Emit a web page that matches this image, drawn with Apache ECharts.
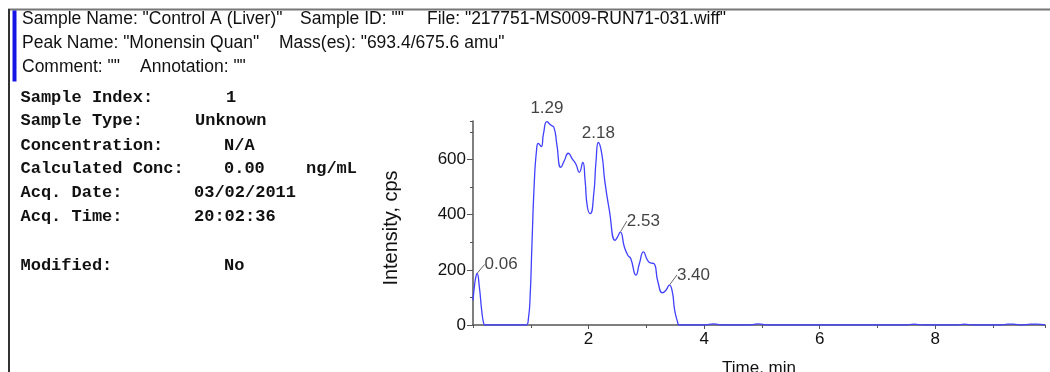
<!DOCTYPE html>
<html><head><meta charset="utf-8">
<script src="https://cdn.jsdelivr.net/npm/echarts@6/dist/echarts.min.js"></script>
<style>html,body{margin:0;padding:0;background:#fff}#c{width:1050px;height:372px}</style>
</head><body><div id="c"></div>
<script>
// Chromatogram trace (time in min, intensity in cps)
var times = [0.00,0.03,0.05,0.07,0.11,0.15,0.185,0.21,0.5,0.92,0.96,0.99,1.02,1.06,1.10,1.13,1.18,1.22,1.28,1.34,1.40,1.45,1.52,1.58,1.65,1.72,1.78,1.84,1.90,1.94,1.98,2.03,2.09,2.13,2.17,2.23,2.28,2.36,2.46,2.50,2.55,2.62,2.68,2.73,2.82,2.88,2.95,3.02,3.07,3.13,3.20,3.28,3.34,3.40,3.45,3.49,3.54,3.57,4.0,4.17,4.3,4.8,4.93,5.1,7.5,7.63,7.8,8.4,8.5,8.65,9.15,9.25,9.35,9.5,9.65,9.75,9.9];
var intensity = [90,150,175,187,138,54,6,0,0,0,25,110,290,512,635,659,647,694,738,726,717,657,572,596,623,602,584,554,590,524,428,404,476,596,662,620,524,416,307,319,337,283,253,241,181,223,265,235,225,223,157,117,126,145,120,54,12,0,0,4,0,0,4,0,0,3,0,0,3,0,0,3,3,0,3,3,0];
// Labelled peaks
var peakTimes = [0.07,1.28,2.17,2.55,3.40];
var peakValues = [187,738,662,337,145];
var peakLabels = ['0.06','1.29','2.18','2.53','3.40'];
// Axis ticks
var xTicks = [2,4,6,8];
var yTicks = [0,200,400,600];
// Header and info block text
var headerLines = [
  [['Sample Name: "Control A (Liver)"',22],['Sample ID: ""',300],['File: "217751-MS009-RUN71-031.wiff"',427]],
  [['Peak Name: "Monensin Quan"',22],['Mass(es): "693.4/675.6 amu"',279]],
  [['Comment: ""',22],['Annotation: ""',140]]
];
var infoLabels = ['Sample Index:','Sample Type:','Concentration:','Calculated Conc:','Acq. Date:','Acq. Time:','Modified:'];
var infoValues = [[['1',226]],[['Unknown',195]],[['N/A',224]],[['0.00',224],['ng/mL',306]],[['03/02/2011',194]],[['20:02:36',194]],[['No',224]]];
var infoRowY = [97.5,121,145.5,169,193,216.5,266];
var headerRowY = [19,43,67];

var SANS = '"Liberation Sans", Arial, sans-serif';
var MONO = '"Liberation Mono", "Courier New", monospace';

var graphics = [];
graphics.push({type:'line',shape:{x1:8,y1:9.5,x2:1050,y2:9.5},style:{stroke:'#777',lineWidth:2},silent:true});
graphics.push({type:'line',shape:{x1:9,y1:9,x2:9,y2:372},style:{stroke:'#333',lineWidth:2},silent:true});
graphics.push({type:'rect',shape:{x:12.5,y:10.5,width:4,height:71},style:{fill:'#1414e6'},silent:true});
headerLines.forEach(function(line,i){
  line.forEach(function(seg){
    graphics.push({type:'text',x:seg[1],y:headerRowY[i],style:{text:seg[0],font:'17.5px '+SANS,fill:'#111',textVerticalAlign:'middle'},silent:true});
  });
});
infoLabels.forEach(function(lab,i){
  graphics.push({type:'text',x:20.5,y:infoRowY[i],style:{text:lab,font:'bold 17px '+MONO,fill:'#111',textVerticalAlign:'middle'},silent:true});
  infoValues[i].forEach(function(v){
    graphics.push({type:'text',x:v[1],y:infoRowY[i],style:{text:v[0],font:'bold 17px '+MONO,fill:'#111',textVerticalAlign:'middle'},silent:true});
  });
});

var peakData = peakTimes.map(function(t,i){
  return {value:[t,peakValues[i]], name:peakLabels[i]};
});
var labelPos = {'0.06':{p:'right',dx:4,dy:-9,line:true},'1.29':{p:'top',dx:0,dy:-1,line:false},'2.18':{p:'top',dx:0,dy:3,line:false},'2.53':{p:'right',dx:3,dy:-11,line:true},'3.40':{p:'right',dx:4,dy:-10,line:true}};
peakData.forEach(function(d){
  var lp = labelPos[d.name];
  d.label = {position:lp.p};
  d.labelLine = {show:lp.line};
  d._dx = lp.dx; d._dy = lp.dy;
});

var chart = echarts.init(document.getElementById('c'),null,{renderer:'canvas'});
chart.setOption({
  animation:false,
  backgroundColor:'#fff',
  grid:{left:473,right:5,top:121,bottom:47,containLabel:false,outerBoundsMode:'none'},
  xAxis:[{
    type:'value',min:0,max:9.9,interval:2,
    name:'Time, min',nameLocation:'middle',nameGap:35,
    nameTextStyle:{fontFamily:SANS,fontSize:17,color:'#111'},
    axisLine:{onZero:false,lineStyle:{color:'#555',width:1.5}},
    axisTick:{show:true,length:4,lineStyle:{color:'#555'},customValues:xTicks},
    axisLabel:{fontFamily:SANS,fontSize:17,color:'#111',margin:6,customValues:xTicks},
    splitLine:{show:false}
  },{
    type:'value',min:0,max:9.9,interval:1,position:'bottom',gridIndex:0,
    axisLine:{show:false},axisTick:{show:true,length:3,lineStyle:{color:'#555'}},
    axisLabel:{show:false},splitLine:{show:false}
  }],
  yAxis:[{
    type:'value',min:0,max:740,interval:200,
    name:'Intensity, cps',nameLocation:'middle',nameGap:72,nameRotate:90,
    nameTextStyle:{fontFamily:SANS,fontSize:20,color:'#111',padding:[0,10,0,0]},
    axisLine:{show:true,lineStyle:{color:'#555',width:1.5}},
    axisTick:{show:true,length:6,lineStyle:{color:'#555'},customValues:yTicks},
    axisLabel:{fontFamily:SANS,fontSize:17,color:'#111',margin:7,customValues:yTicks},
    splitLine:{show:false}
  },{
    type:'value',min:0,max:740,interval:100,position:'left',
    axisLine:{show:false},axisTick:{show:true,length:3,lineStyle:{color:'#555'}},
    axisLabel:{show:false},splitLine:{show:false}
  }],
  graphic:graphics,
  series:[{
    type:'line',xAxisIndex:0,yAxisIndex:0,
    data:times.map(function(t,i){return [t,intensity[i]];}),
    showSymbol:false,symbol:'none',smooth:0.55,
    lineStyle:{color:'#4040ff',width:1.3},
    clip:true,z:3
  },{
    type:'scatter',xAxisIndex:0,yAxisIndex:0,
    data:peakData,symbol:'circle',symbolSize:1,
    itemStyle:{color:'rgba(0,0,0,0)'},
    label:{show:true,formatter:function(p){return p.name;},fontFamily:SANS,fontSize:17,color:'#111',distance:3},
    labelLine:{show:false,lineStyle:{color:'#666',width:1}},
    labelLayout:function(params){
      var d = peakData[params.dataIndex];
      return {dx:d._dx,dy:d._dy};
    },
    z:4
  }]
});
</script></body></html>
